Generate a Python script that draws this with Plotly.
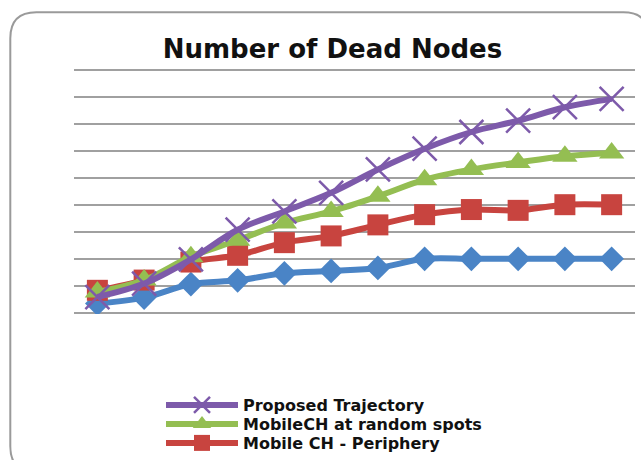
import plotly.graph_objects as go

# ---- data (y in gridline units) ----
rounds = list(range(1, 13))
blue_series = [0.34, 0.56, 1.06, 1.20, 1.46, 1.55, 1.66, 2.0, 2.0, 2.0, 2.0, 2.0]
periphery = [0.83, 1.21, 1.88, 2.13, 2.60, 2.85, 3.26, 3.64, 3.83, 3.80, 4.01, 4.01]
random_spots = [0.77, 1.21, 2.08, 2.69, 3.33, 3.76, 4.32, 4.94, 5.32, 5.58, 5.81, 5.93]
proposed = [0.58, 1.08, 1.98, 3.08, 3.76, 4.45, 5.32, 6.09, 6.71, 7.13, 7.63, 7.94]

names = ["", "Mobile CH - Periphery", "MobileCH at random spots", "Proposed Trajectory"]
title_text = "Number of Dead Nodes"

W, H = 641, 460
UNIT = (312.3 - 70) / 9
PAD = 0.05
ML, MR = 73.7, W - 634.7
MT = 70 - PAD * UNIT
MB = H - (312.3 + PAD * UNIT)
PW, PH = W - ML - MR, H - MT - MB


def px(x):
    return (x - ML) / PW


def py(y):
    return (H - MB - y) / PH


fig = go.Figure()

fig.add_trace(go.Scatter(
    x=rounds, y=blue_series, mode="lines+markers", name=names[0], showlegend=False,
    line=dict(color="#4A84C6", width=6, shape="spline"),
    marker=dict(symbol="diamond", size=19, color="#4A84C6"),
))
fig.add_trace(go.Scatter(
    x=rounds, y=periphery, mode="lines+markers", name=f"<b>{names[1]}</b>", legend="legend3",
    line=dict(color="#C8443F", width=6, shape="spline"),
    marker=dict(symbol="square", size=21, color="#C8443F"),
))
fig.add_trace(go.Scatter(
    x=rounds, y=random_spots, mode="lines+markers", name=f"<b>{names[2]}</b>", legend="legend2",
    line=dict(color="#94BE52", width=6, shape="spline"),
    marker=dict(symbol="triangle-up", size=22, color="#94BE52"),
))
fig.add_trace(go.Scatter(
    x=rounds, y=proposed, mode="lines+markers", name=f"<b>{names[3]}</b>", legend="legend",
    line=dict(color="#7D5AAA", width=6, shape="spline"),
    marker=dict(symbol="x-thin", size=24, color="#7D5AAA",
                line=dict(color="#7D5AAA", width=2.5)),
))

# rounded chart frame
x0, y0, x1, y1, r = 10, 12, 649, 472, 26
path = (
    f"M {px(x0)},{py(y0 + r)} "
    f"Q {px(x0)},{py(y0)} {px(x0 + r)},{py(y0)} "
    f"L {px(x1 - r)},{py(y0)} "
    f"Q {px(x1)},{py(y0)} {px(x1)},{py(y0 + r)} "
    f"L {px(x1)},{py(y1 - r)} "
    f"Q {px(x1)},{py(y1)} {px(x1 - r)},{py(y1)} "
    f"L {px(x0 + r)},{py(y1)} "
    f"Q {px(x0)},{py(y1)} {px(x0)},{py(y1 - r)} Z"
)
fig.add_shape(type="path", path=path, xref="paper", yref="paper",
              line=dict(color="#9A9A9A", width=2), layer="below")


def legend_at(yc):
    return dict(x=161 / W, xref="container", xanchor="left",
                y=1 - yc / H, yref="container", yanchor="middle",
                itemwidth=72, bgcolor="rgba(0,0,0,0)",
                font=dict(family="DejaVu Sans", size=16, color="#111111"))


fig.update_layout(
    width=W, height=H,
    margin=dict(l=ML, r=MR, t=MT, b=MB, autoexpand=False),
    paper_bgcolor="white", plot_bgcolor="white",
    title=dict(text=f"<b>{title_text}</b>", x=332.5 / W, xanchor="center",
               y=1 - 49 / H, yanchor="middle", yref="container",
               font=dict(family="DejaVu Sans", size=26, color="#111111")),
    xaxis=dict(range=[0.5, 12.5], showticklabels=False, showgrid=False,
               zeroline=False, showline=False, ticks=""),
    yaxis=dict(range=[-PAD, 9 + PAD], tick0=0, dtick=1, showticklabels=False, showgrid=True,
               gridcolor="#A0A0A0", gridwidth=2, zeroline=False, showline=False, ticks=""),
    legend=legend_at(405),
    legend2=legend_at(424),
    legend3=legend_at(443),
    showlegend=True,
)

fig.write_html("out.html", config={"displayModeBar": False},
               post_script="document.body.style.margin='0';")
